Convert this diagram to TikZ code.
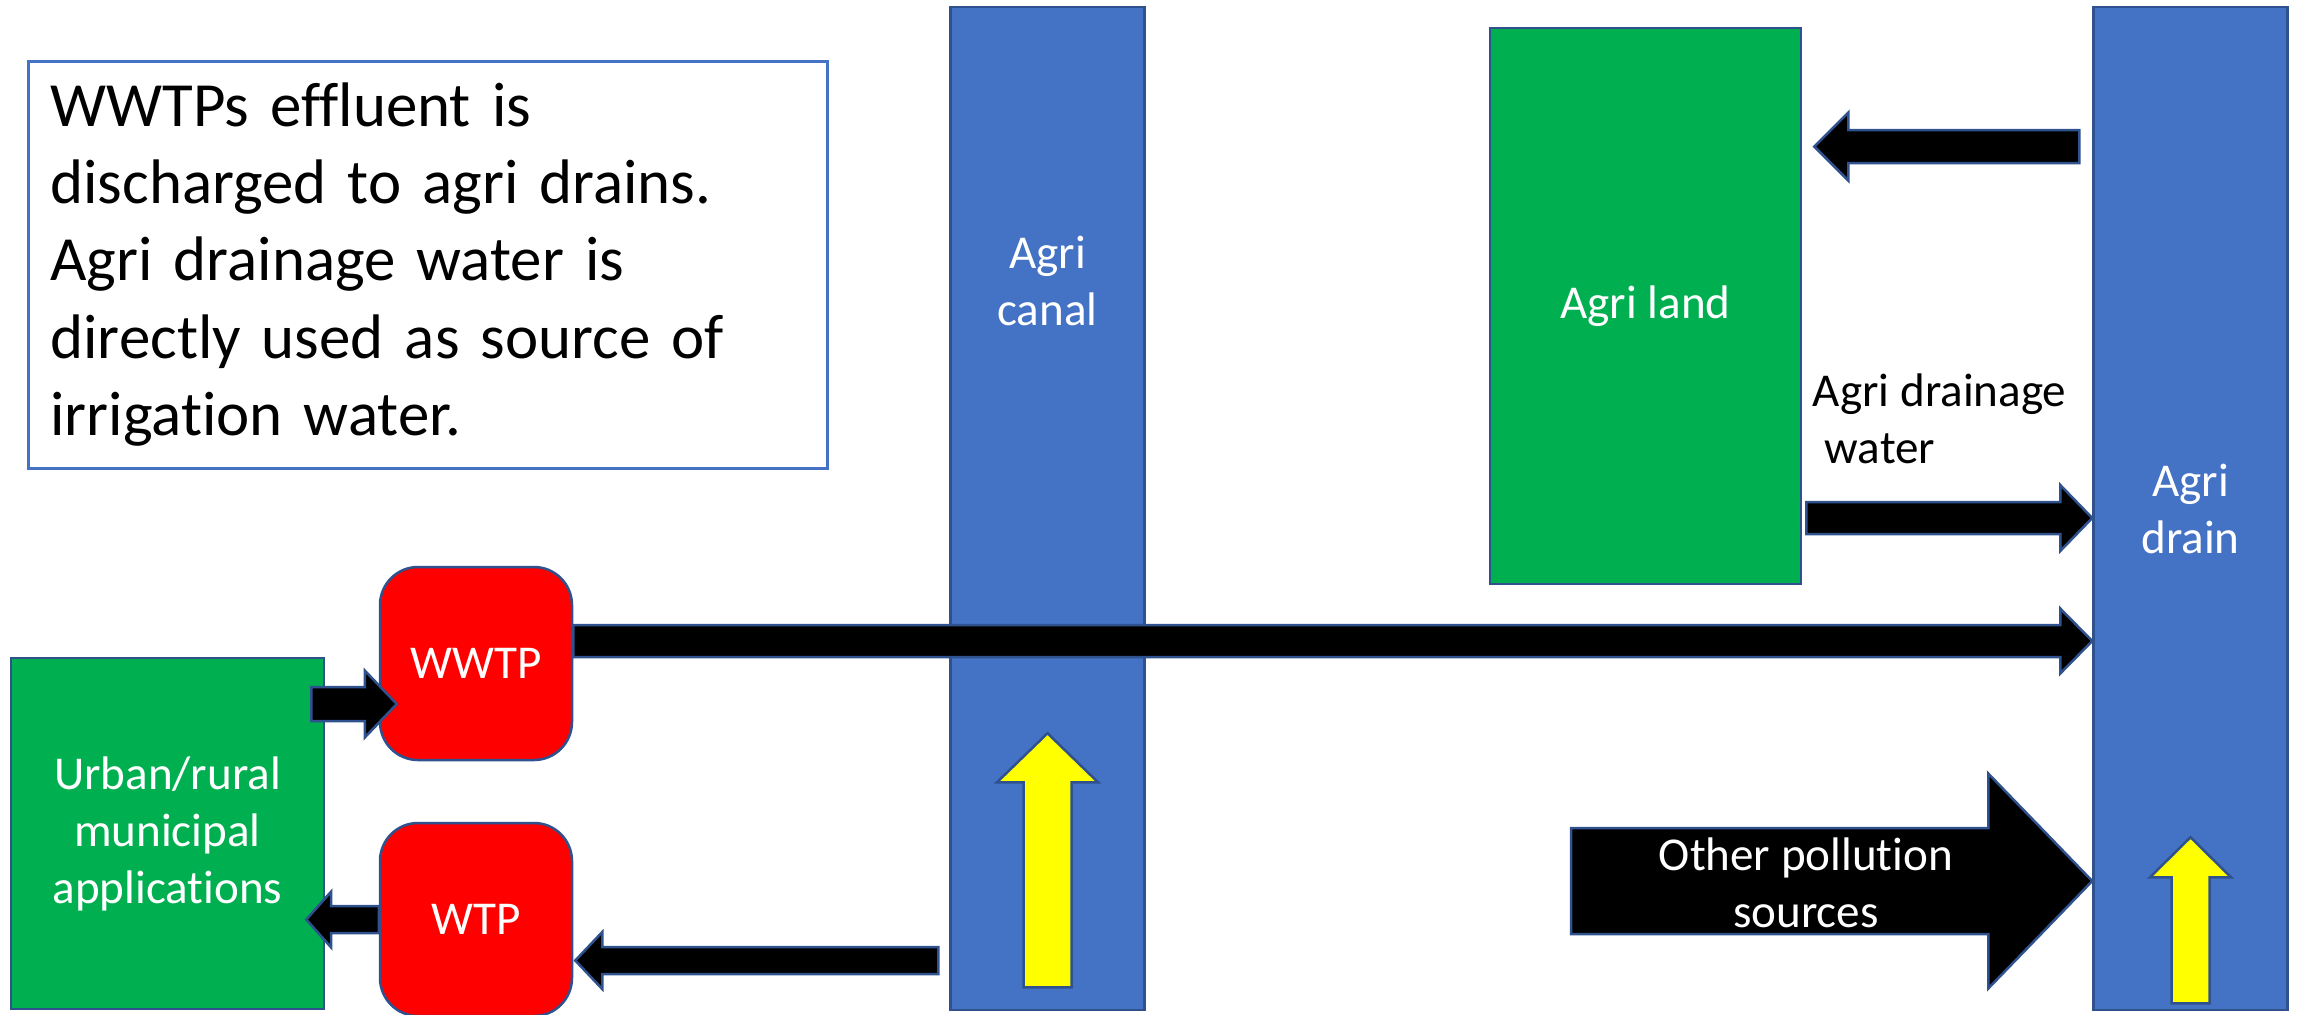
\documentclass[tikz,border=0pt]{standalone}
\usepackage{fontspec}
\setmainfont{Carlito}[Ligatures={NoCommon}]
\newfontfamily\notefamily{Carlito}[Ligatures={NoCommon}, WordSpace=0.7]
\usetikzlibrary{calc}
\definecolor{CanalBlue}{HTML}{4472C4}
\definecolor{EdgeBlue}{HTML}{2F528F}
\definecolor{LandGreen}{HTML}{00B050}
\definecolor{PlantRed}{HTML}{FF0000}
\definecolor{LiftYellow}{HTML}{FFFF00}
\newcommand{\lblfont}{\fontsize{13.4pt}{16.2pt}\selectfont}
\newcommand{\notefont}{\notefamily\fontsize{17.9pt}{22pt}\selectfont}
\tikzset{
  shp/.style   = {draw=EdgeBlue, line width=0.25mm, inner sep=0pt, align=center,
                  text=white, font=\lblfont},
  chan/.style  = {shp, fill=CanalBlue, minimum width=19.4mm, minimum height=100.3mm},
  field/.style = {shp, fill=LandGreen},
  plant/.style = {shp, fill=PlantRed, rounded corners=3.8mm,
                  minimum width=19.2mm, minimum height=19.3mm},
  note/.style  = {draw=CanalBlue, line width=0.3mm, fill=white, align=left,
                  font=\notefont, text width=75.4mm, inner xsep=2.25mm,
                  minimum height=40.7mm},
  lbl/.style   = {font=\lblfont, align=center, inner sep=0pt},
  flow/.style  = {fill=black, draw=EdgeBlue, line width=0.25mm},
  lift/.style  = {fill=LiftYellow, draw=EdgeBlue, line width=0.25mm},
  % block arrow: shaft half width, head half width, head length
  blockarrow/.style n args={3}{to path={
    let \p1=(\tikztostart), \p2=(\tikztotarget),
        \p3=($(\p2)!#3!(\p1)$) in
    ($(\p1)!#1!90:(\p2)$) -- ($(\p3)!#1!90:(\p2)$) -- ($(\p3)!#2!90:(\p2)$)
    -- (\p2)
    -- ($(\p3)!#2!-90:(\p2)$) -- ($(\p3)!#1!-90:(\p2)$) -- ($(\p1)!#1!-90:(\p2)$)
    -- cycle}},
}

\begin{document}
\begin{tikzpicture}[x=0.1mm, y=-0.1mm]
  \useasboundingbox (0,0) rectangle (2300,1014);

  % canal and drain
  \node[chan] (canal) at (1047.5,508.5) {};
  \node[chan] (drain) at (2190.5,508.5) {Agri\\drain};
  \node[lbl, text=white] (canaltxt) at ([shift={(0,275)}]canal.north) {Agri\\canal};

  \node[field, minimum width=31.1mm, minimum height=55.6mm] (land) at (1645.5,306) {Agri land};
  \node[field, minimum width=31.3mm, minimum height=35.1mm] (urban) at (167.5,833.5)
    {Urban/rural\\municipal\\applications};

  \node[plant] (wwtp) at (476,663.5) {WWTP};
  \node[plant] (wtp)  at (476,919.5) {WTP};

  \node[note] (note) at (427.5,264.5)
    {WWTPs effluent is\\discharged to agri drains.\\Agri drainage water is\\directly used as source of\\irrigation water.};

  % flows
  \draw[flow, blockarrow={1.7mm}{3.35mm}{3.2mm}]
    ([shift={(-14,-129.5)}]urban.east) to ([shift={(18,40.5)}]wwtp.west);
  \draw[flow, blockarrow={1.35mm}{2.8mm}{2.5mm}]
    (wtp.west) to ([shift={(-19,86)}]urban.east);
  \draw[flow, blockarrow={1.35mm}{2.85mm}{2.7mm}]
    ([shift={(-11,452)}]canal.west) to ([shift={(2,41)}]wtp.east);
  \draw[flow, blockarrow={1.6mm}{3.25mm}{3.2mm}]
    ([shift={(0,-22.5)}]wwtp.east) to ([shift={(0,132.5)}]drain.west);
  \draw[flow, blockarrow={1.65mm}{3.4mm}{3.4mm}]
    ([shift={(-13,-362)}]drain.west) to ([shift={(12,-159.5)}]land.east);
  \draw[flow, blockarrow={1.6mm}{3.3mm}{3.2mm}]
    ([shift={(4,212)}]land.east) to ([shift={(0,9.5)}]drain.west);

  \node[lbl, align=left, anchor=west] (draintxt) at ([shift={(10,113)}]land.east)
    {Agri drainage\\\hspace*{.25em}water};

  \coordinate (othersrc) at (1571,881);
  \draw[flow, blockarrow={5.3mm}{10.75mm}{10.4mm}]
    (othersrc) to ([shift={(0,372.5)}]drain.west);
  \node[lbl, text=white] (othertxt) at (1806,883) {Other pollution\\sources};

  % upward flow in the channels
  \draw[lift, blockarrow={2.4mm}{5.05mm}{4.9mm}]
    ([shift={(0,-24)}]canal.south) to ([shift={(0,-278)}]canal.south);
  \draw[lift, blockarrow={1.9mm}{4.05mm}{4.0mm}]
    ([shift={(0,-8)}]drain.south) to ([shift={(0,-174)}]drain.south);

\end{tikzpicture}
\end{document}
